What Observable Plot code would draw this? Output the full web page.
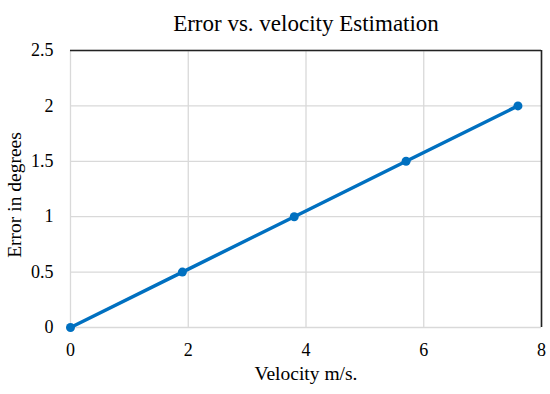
<!DOCTYPE html>
<html><head><meta charset="utf-8">
<script src="https://cdn.jsdelivr.net/npm/d3@7"></script>
<script src="https://cdn.jsdelivr.net/npm/@observablehq/plot@0.6"></script>
<style>body{margin:0;background:#fff}</style>
</head><body><div id="chart"></div>
<script>
const velocity = [0, 1.9, 3.8, 5.7, 7.6];
const errorDeg = [0, 0.5, 1, 1.5, 2];
const xTicks = [0, 2, 4, 6, 8];
const yTicks = [0, 0.5, 1, 1.5, 2, 2.5];
const titleText = "Error vs. velocity Estimation";
const xLabel = "Velocity m/s.";
const yLabel = "Error in degrees";

const data = velocity.map((v, i) => ({v, e: errorDeg[i]}));
const font = "'Liberation Serif','Times New Roman',serif";

const chart = Plot.plot({
  width: 550, height: 394,
  marginLeft: 70, marginRight: 9, marginTop: 50, marginBottom: 67,
  style: {fontFamily: font, fontSize: "18px", color: "#000", background: "#fff"},
  x: {domain: [0, 8], label: null},
  y: {domain: [0, 2.5], label: null},
  marks: [
    Plot.gridX(xTicks, {stroke: "#d9d9d9", strokeOpacity: 1, strokeWidth: 1.3}),
    Plot.gridY(yTicks, {stroke: "#d9d9d9", strokeOpacity: 1, strokeWidth: 1.3}),
    Plot.ruleY([2.5], {stroke: "#222", strokeWidth: 1.6}),
    Plot.ruleX([8], {stroke: "#222", strokeWidth: 1.6}),
    Plot.axisX(xTicks, {tickSize: 0, tickPadding: 16, fontSize: 18, tickFormat: d => String(d)}),
    Plot.axisY(yTicks, {tickSize: 0, tickPadding: 17, fontSize: 18, tickFormat: d => String(d)}),
    Plot.line(data, {x: "v", y: "e", stroke: "#0070C0", strokeWidth: 3.5}),
    Plot.dot(data, {x: "v", y: "e", fill: "#0070C0", r: 4.5}),
    Plot.text([titleText], {frameAnchor: "top", dy: -36, fontSize: 23, fill: "#000"}),
    Plot.text([xLabel], {frameAnchor: "bottom", dy: 52, fontSize: 19.5, fill: "#000"}),
    Plot.text([yLabel], {frameAnchor: "left", textAnchor: "middle", dx: -56, dy: 6, rotate: -90, fontSize: 19.5, fill: "#000"})
  ]
});
document.getElementById("chart").append(chart);
</script>
</body></html>
